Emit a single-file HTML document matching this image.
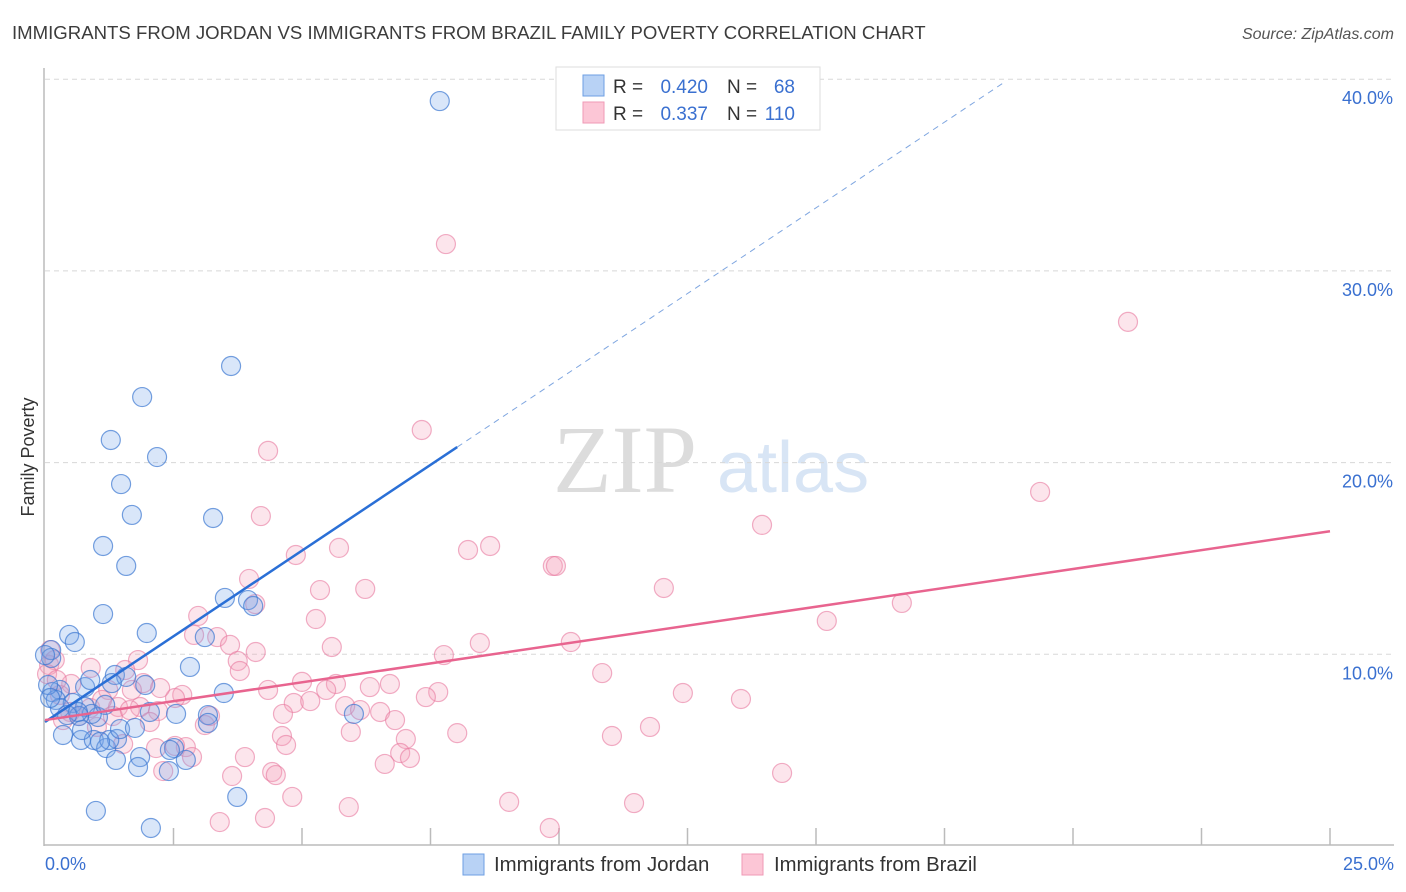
<!DOCTYPE html>
<html><head><meta charset="utf-8">
<style>
body{margin:0;background:#fff;font-family:"Liberation Sans",sans-serif;}
#wrap{position:relative;width:1406px;height:892px;overflow:hidden;}
svg{position:absolute;left:0;top:0;}
</style></head>
<body>
<div id="wrap">
<svg id="chart" width="1406" height="892">
<text x="12" y="39" font-size="18.6" fill="#3c3c3c">IMMIGRANTS FROM JORDAN VS IMMIGRANTS FROM BRAZIL FAMILY POVERTY CORRELATION CHART</text>
<text x="1394" y="39" font-size="16" font-style="italic" fill="#555" text-anchor="end">Source: ZipAtlas.com</text>
<text x="553" y="492" font-size="96" font-family="Liberation Serif,serif" fill="#dcdcdc">ZIP</text>
<text x="717" y="492" font-size="72" fill="#d8e5f5">atlas</text>
<text transform="translate(34,457) rotate(-90)" font-size="18" fill="#333" text-anchor="middle">Family Poverty</text>
<g id="grid"></g><g id="pts"></g><g id="lines"></g>
<rect x="556" y="67" width="264" height="63" fill="#fff" stroke="#ddd"/>
<rect x="583" y="75" width="21" height="21" fill="#b8d2f5" stroke="#6e9fe3"/>
<rect x="583" y="102" width="21" height="21" fill="#fcc6d6" stroke="#ef9ab6"/>
<g font-size="19">
<text x="613" y="93" fill="#333">R =</text>
<text x="708" y="93" fill="#3a70d0" text-anchor="end">0.420</text>
<text x="727" y="93" fill="#333">N =</text>
<text x="795" y="93" fill="#3a70d0" text-anchor="end">68</text>
</g>
<g font-size="19">
<text x="613" y="120" fill="#333">R =</text>
<text x="708" y="120" fill="#3a70d0" text-anchor="end">0.337</text>
<text x="727" y="120" fill="#333">N =</text>
<text x="795" y="120" fill="#3a70d0" text-anchor="end">110</text>
</g>
<rect x="463" y="854" width="21" height="21" fill="#b8d2f5" stroke="#6e9fe3"/>
<text x="494" y="871" font-size="20.4" fill="#333">Immigrants from Jordan</text>
<rect x="742" y="854" width="21" height="21" fill="#fcc6d6" stroke="#ef9ab6"/>
<text x="774" y="871" font-size="20.3" fill="#333">Immigrants from Brazil</text>
</svg>
</div>
<script>
const yTicks=[10,20,30,40];
const yTickLabels=["10.0%","20.0%","30.0%","40.0%"];
const xTicks=[2.5,5,7.5,10,12.5,15,17.5,20,22.5,25];
const xEndLabels=["0.0%","25.0%"];
const jordanX=[7.68,3.62,1.89,1.28,2.18,1.48,1.69,3.27,1.13,1.58,1.13,3.50,3.95,4.05,1.98,0.47,0.58,2.82,3.11,0.12,0.12,1.36,0.78,1.58,1.30,0.29,1.95,0.14,0.21,0.54,0.78,0.29,1.03,0.91,2.04,2.55,3.17,3.17,0.66,0.35,0.70,0.95,1.19,1.40,1.25,1.38,1.85,1.81,2.41,2.74,2.51,0.72,1.46,1.75,6.01,3.48,3.74,0.99,2.06,0,0.06,0.10,0.64,1.07,2.43,0.88,0.43,1.17];
const jordanY=[38.86,25.04,23.42,21.18,20.29,18.88,17.27,17.11,15.65,14.61,12.10,12.94,12.83,12.52,11.11,11.01,10.64,9.34,10.90,10.22,9.81,8.92,8.29,8.82,8.50,8.14,8.40,8.03,7.62,7.46,7.25,7.20,6.73,6.89,6.99,6.89,6.83,6.42,6.78,5.79,5.53,5.53,5.11,5.58,5.53,4.49,4.64,4.12,3.91,4.49,5.11,6.05,6.10,6.16,6.89,7.98,2.56,1.83,0.94,9.96,8.40,7.72,6.99,5.43,5.01,8.66,6.83,7.36];
const brazilX=[7.80,21.07,4.34,7.33,19.36,4.20,13.95,4.88,5.72,8.23,8.66,9.88,9.94,3.97,5.35,6.23,12.04,16.67,2.98,4.09,5.27,15.21,10.23,8.46,2.90,3.35,3.60,5.58,4.10,7.76,1.81,0.89,1.56,3.75,3.79,10.84,5.00,5.66,6.32,6.71,7.65,7.41,12.41,13.54,5.47,4.34,2.67,2.53,1.91,1.23,0.51,0.08,0.10,0.19,1.85,2.20,1.42,4.84,5.16,4.63,5.84,6.13,6.52,6.81,4.61,5.95,8.02,11.77,11.03,7.02,6.91,7.10,6.61,3.89,4.69,2.74,2.16,2.53,1.52,4.42,4.49,3.64,2.30,2.86,14.34,4.81,5.91,9.03,11.46,4.28,3.40,9.82,0.66,0.49,0.88,1.11,1.32,1.65,0.29,0.35,1.01,2.04,3.11,3.21,0.04,0.23,1.69,2.24];
const brazilY=[31.40,27.34,20.61,21.70,18.47,17.21,16.75,15.18,15.55,15.44,15.65,14.61,14.61,13.93,13.35,13.41,13.46,12.68,12.00,12.62,11.84,11.74,10.64,10.59,11.01,10.90,10.49,10.38,10.12,9.96,9.70,9.29,9.18,9.65,9.13,9.02,8.56,8.45,8.29,8.45,8.03,7.77,7.98,7.67,8.14,8.14,7.88,7.72,8.50,8.14,8.45,9.44,10.22,9.70,7.25,7.04,7.25,7.46,7.56,6.89,7.30,7.09,6.99,6.57,5.74,5.95,5.89,6.21,5.74,5.58,4.85,4.59,4.28,4.64,5.27,5.16,5.11,5.22,5.32,3.86,3.70,3.65,3.91,4.64,3.81,2.56,2.03,2.30,2.24,1.46,1.25,0.94,6.78,6.99,7.20,7.62,6.78,7.09,7.88,6.57,6.21,6.47,6.31,6.78,8.97,8.66,8.14,8.24];
const jordanTrend=[6.47,1.788];
const brazilTrend=[6.57,0.394];
const NS='http://www.w3.org/2000/svg';
const X0=45,X1=1330,Y0=846,YPER=19.17;
function sx(v){return X0+(X1-X0)*v/25;}
function sy(v){return Y0-v*YPER;}
function mk(tag,attrs,parent){const e=document.createElementNS(NS,tag);for(const k in attrs)e.setAttribute(k,attrs[k]);parent.appendChild(e);return e;}
const grid=document.getElementById('grid');
yTicks.forEach((t,i)=>{
  const l=mk('line',{x1:45,x2:1394,y1:sy(t),y2:sy(t),stroke:'#d8d8d8','stroke-dasharray':'5,4'},grid);
  
  
  const tx=mk('text',{x:1393,y:sy(t)+25,'font-size':18,fill:'#3a70d0','text-anchor':'end'},grid);
  tx.textContent=yTickLabels[i];
  
  
});
const ax=mk('line',{x1:44,x2:44,y1:68,y2:846,stroke:'#bbb','stroke-width':1.5},grid);


const bx=mk('line',{x1:44,x2:1394,y1:845,y2:845,stroke:'#bbb','stroke-width':1.5},grid);


xTicks.forEach(t=>{
  const l=mk('line',{x1:sx(t),x2:sx(t),y1:828,y2:845,stroke:'#bbb','stroke-width':1.5},grid);
  
  
});
[[0,'start',45],[25,'end',1394]].forEach((a,i)=>{
  const tx=mk('text',{x:a[2],y:870,'font-size':18,fill:'#3a70d0','text-anchor':a[1]},grid);
  tx.textContent=xEndLabels[i];
  
  
});
const pts=document.getElementById('pts');
function drawPts(xs,ys,fill,stroke,name){
  xs.forEach((x,i)=>{
    const c=mk('circle',{cx:sx(x),cy:sy(ys[i]),r:9.5,fill:fill,stroke:stroke,'stroke-width':1.2},pts);
    
    
  });
}
drawPts(brazilX,brazilY,'rgba(246,160,188,0.28)','rgba(232,120,158,0.6)','brazil-point');
drawPts(jordanX,jordanY,'rgba(120,165,235,0.28)','rgba(60,120,210,0.7)','jordan-point');
const lines=document.getElementById('lines');
function tl(tr,a,b,st,dash,w,name){
  const l=mk('line',{x1:sx(a),y1:sy(tr[0]+tr[1]*a),x2:sx(b),y2:sy(tr[0]+tr[1]*b),stroke:st,'stroke-width':w},lines);
  if(dash)l.setAttribute('stroke-dasharray',dash);
  
  
}
tl(jordanTrend,0,8.02,'#2a6fd6',null,2.5,'jordan-trendline');
tl(jordanTrend,8.02,18.63,'#7fa6e0','6,5',1,'jordan-trendline-extension');
tl(brazilTrend,0,25,'#e8648f',null,2.5,'brazil-trendline');
</script>
</body></html>
